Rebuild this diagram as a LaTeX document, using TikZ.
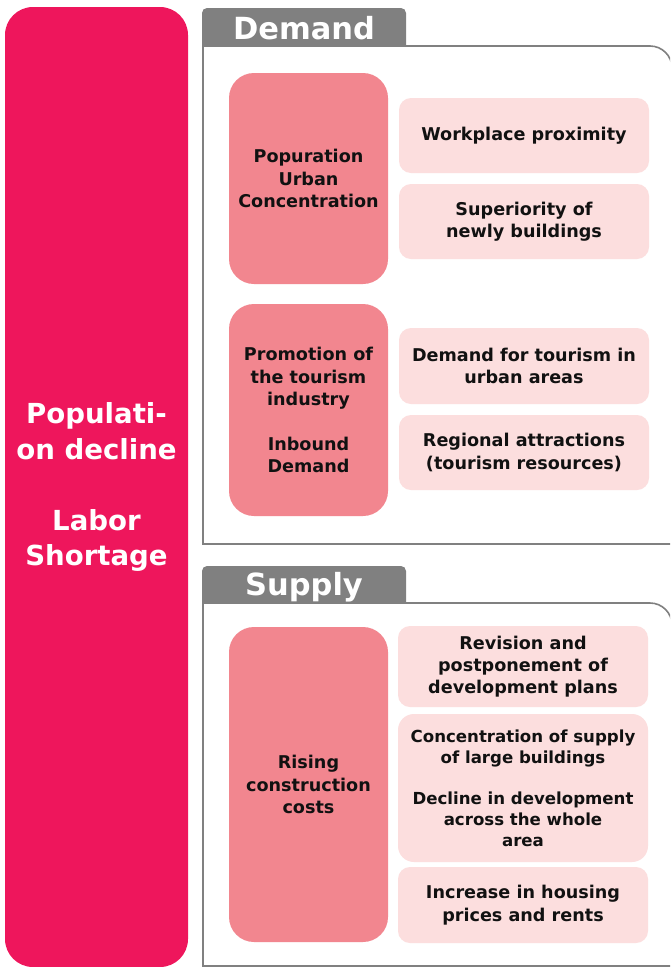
\documentclass[tikz,border=0pt]{standalone}
\usepackage{fontspec}
\setmainfont{DejaVu Sans}
\definecolor{mainred}{RGB}{238,22,92}
\definecolor{darkpink}{RGB}{242,134,143}
\definecolor{lightpink}{RGB}{252,222,222}
\definecolor{tabgray}{RGB}{128,128,128}
\definecolor{txt}{RGB}{17,17,17}
\begin{document}
\begin{tikzpicture}[x=1pt,y=-1pt,
  mainbox/.style={fill=mainred, rounded corners=28pt, inner sep=0pt, align=center,
    text=white, font=\bfseries\fontsize{27.6}{35.5}\selectfont},
  tabbox/.style={fill=tabgray, rounded corners=5pt},
  tabtext/.style={text=white, font=\bfseries\fontsize{30.5}{30.5}\selectfont, anchor=base, inner sep=0pt},
  panel/.style={fill=white, draw=tabgray, line width=1.6pt},
  darkbox/.style={fill=darkpink, rounded corners=25pt, minimum width=159pt, inner sep=0pt,
    align=center, text=txt, font=\bfseries\fontsize{17.6}{22.3}\selectfont},
  lightbox/.style={fill=lightpink, rounded corners=12pt, minimum width=250pt, inner sep=0pt,
    align=center, text=txt, font=\bfseries\fontsize{17.6}{22.3}\selectfont}
]
\useasboundingbox (0,0) rectangle (670,967);
\clip (0,0) rectangle (670,967);

% main left box
\node[mainbox, minimum width=183pt, minimum height=960pt] (main) at (96.5,487)
  {Populati-\\on decline\\[35.5pt]Labor\\Shortage};

% Demand tab and panel
\path[tabbox] (202,8) rectangle (406,60);
\node[tabtext] (demandtitle) at (304,39.5) {Demand};
\draw[panel] (203,544) -- (203,46) -- (650,46) .. controls (662.15,46) and (672,55.85) .. (672,68) -- (672,544) -- cycle;

% Supply tab and panel
\path[tabbox] (202,566) rectangle (406,620);
\node[tabtext] (supplytitle) at (304,595.5) {Supply};
\draw[panel] (203,966) -- (203,603) -- (650,603) .. controls (662.15,603) and (672,612.85) .. (672,625) -- (672,966) -- cycle;

% Demand contents
\node[darkbox, minimum height=211pt] (d1) at (308.5,178.5) {Popuration\\Urban\\Concentration};
\node[darkbox, minimum height=212pt] (d2) at (308.5,410) {Promotion of\\the tourism\\industry\\[22.3pt]Inbound\\Demand};
\node[lightbox, minimum height=75pt] (la) at (524,135.5) {Workplace proximity};
\node[lightbox, minimum height=75pt] (lb) at (524,221.5) {Superiority of\\newly buildings};
\node[lightbox, minimum height=76pt] (lc) at (524,366) {Demand for tourism in\\urban areas};
\node[lightbox, minimum height=75pt] (ld) at (524,452.5) {Regional attractions\\(tourism resources)};

% Supply contents
\node[darkbox, minimum height=315pt] (d3) at (308.5,784.5) {Rising\\construction\\costs};
\node[lightbox, minimum height=81pt] (le) at (523,666.5) {Revision and\\postponement of\\development plans};
\node[lightbox, rounded corners=16pt, minimum height=148pt, font=\bfseries\fontsize{16.6}{20.8}\selectfont] (lf) at (523,788)
  {Concentration of supply\\of large buildings\\[20.8pt]Decline in development\\across the whole\\area};
\node[lightbox, minimum height=76pt] (lg) at (523,905) {Increase in housing\\prices and rents};
\end{tikzpicture}
\end{document}
